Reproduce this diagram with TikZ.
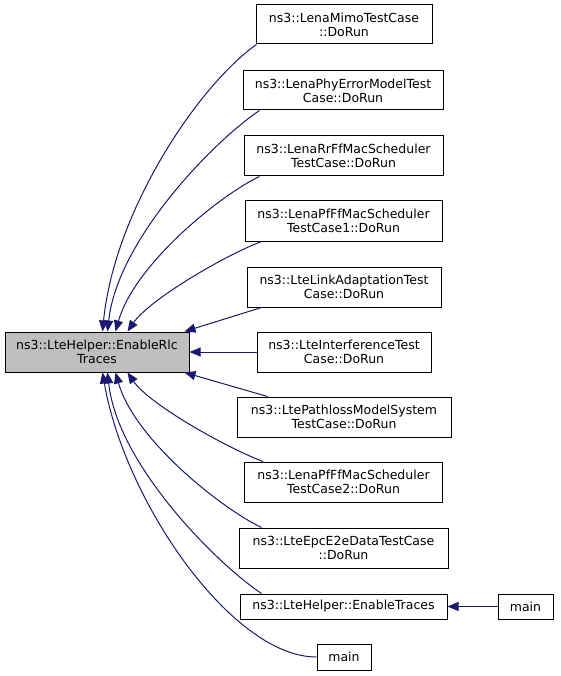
\documentclass[tikz,border=0pt]{standalone}
\usepackage{fontspec}
\setmainfont{DejaVu Sans}
\usetikzlibrary{arrows.meta}
\definecolor{edgeblue}{HTML}{191970}
\definecolor{maingray}{HTML}{BFBFBF}
\begin{document}
\begin{tikzpicture}[x=1pt,y=-1pt,
  box/.style={draw=black,line width=1pt,fill=white,align=center,inner sep=0pt,
    font=\fontsize{12.5}{14}\selectfont},
  hilite/.style={box,fill=maingray},
  edge/.style={draw=edgeblue,line width=1pt,-{Triangle[length=11pt,width=9pt]}}]
\useasboundingbox (0,0) rectangle (560,676);
\fill[white] (0,0) rectangle (560,676);

\node[hilite,minimum width=184pt,minimum height=40pt] (m) at (97,352) {ns3::LteHelper::EnableRlc\\Traces};

\node[box,minimum width=176pt,minimum height=39pt] (n1) at (344,24.5) {ns3::LenaMimoTestCase\\::DoRun};
\node[box,minimum width=200pt,minimum height=39pt] (n2) at (343,90.5) {ns3::LenaPhyErrorModelTest\\Case::DoRun};
\node[box,minimum width=199pt,minimum height=40pt] (n3) at (343.5,156) {ns3::LenaRrFfMacScheduler\\TestCase::DoRun};
\node[box,minimum width=197pt,minimum height=40pt] (n4) at (343.5,221) {ns3::LenaPfFfMacScheduler\\TestCase1::DoRun};
\node[box,minimum width=194pt,minimum height=40pt] (n5) at (344,287) {ns3::LteLinkAdaptationTest\\Case::DoRun};
\node[box,minimum width=174pt,minimum height=40pt] (n6) at (344,352) {ns3::LteInterferenceTest\\Case::DoRun};
\node[box,minimum width=214pt,minimum height=40pt] (n7) at (344,417) {ns3::LtePathlossModelSystem\\TestCase::DoRun};
\node[box,minimum width=198pt,minimum height=40pt] (n8) at (343.5,482) {ns3::LenaPfFfMacScheduler\\TestCase2::DoRun};
\node[box,minimum width=209pt,minimum height=40pt] (n9) at (343.5,548) {ns3::LteEpcE2eDataTestCase\\::DoRun};
\node[box,minimum width=207pt,minimum height=25pt] (n10) at (343.5,606.5) {ns3::LteHelper::EnableTraces};
\node[box,minimum width=55pt,minimum height=25pt] (n11) at (525.5,606.5) {main};
\node[box,minimum width=54pt,minimum height=26pt] (n12) at (344,657) {main};

\draw[edge] ([xshift=1pt]n1.south west) .. controls +(-57,40) and +(12,-122) .. ([xshift=98pt]m.north west);
\draw[edge] ([xshift=17pt]n2.south west) .. controls +(-45,30) and +(10,-92) .. ([xshift=103pt]m.north west);
\draw[edge] ([xshift=16pt]n3.south west) .. controls +(-40,19) and +(19,-67) .. ([xshift=111pt]m.north west);
\draw[edge] ([xshift=17pt]n4.south west) .. controls +(-37,14) and +(22,-32) .. ([xshift=123pt]m.north west);
\draw[edge] ([xshift=15pt]n5.south west) -- ([xshift=-5pt]m.north east);
\draw[edge] (n6.west) -- (m.east);
\draw[edge] ([xshift=31pt]n7.north west) -- ([xshift=-5pt]m.south east);
\draw[edge] ([xshift=19pt]n8.north west) .. controls +(-37,-14) and +(22,32) .. ([xshift=123pt]m.south west);
\draw[edge] ([xshift=23pt]n9.north west) .. controls +(-40,-19) and +(19,67) .. ([xshift=111pt]m.south west);
\draw[edge] ([xshift=22pt]n10.north west) .. controls +(-45,-30) and +(10,92) .. ([xshift=103pt]m.south west);
\draw[edge] (n12.west) .. controls +(-85,0) and +(22,128) .. ([xshift=98pt]m.south west);
\draw[edge] (n11.west) -- (n10.east);
\end{tikzpicture}
\end{document}
